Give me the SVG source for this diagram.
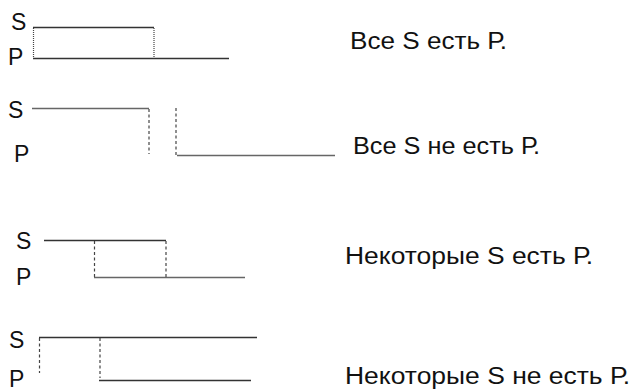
<svg xmlns="http://www.w3.org/2000/svg" width="632" height="389" viewBox="0 0 632 389">
  <style>
    .lbl { font-family: "Liberation Sans", Arial, sans-serif; font-size: 23px; fill: #111; }
    .cap { font-family: "Liberation Sans", Arial, sans-serif; font-size: 24.5px; fill: #111; }
    .solid { stroke: #333; stroke-width: 1.3; fill: none; }
    .grey { stroke: #666; stroke-width: 1.6; fill: none; }
    .dot { stroke: #444; stroke-width: 1.2; stroke-dasharray: 1 1; fill: none; }
    .dash { stroke: #444; stroke-width: 1.2; stroke-dasharray: 3 2.5; fill: none; }
  </style>
  <rect width="632" height="389" fill="#fff"/>

  <!-- Все S есть P -->
  <g id="all-are">
    <text class="lbl" x="11" y="30">S</text>
    <text class="lbl" x="8" y="65">P</text>
    <line class="solid" x1="33" y1="27.5" x2="154" y2="27.5"/>
    <line class="solid" x1="33" y1="58.5" x2="229" y2="58.5"/>
    <line class="dot" x1="33.5" y1="28" x2="33.5" y2="58"/>
    <line class="dot" x1="154" y1="28" x2="154" y2="58"/>
    <text class="cap" x="350" y="49" textLength="157" lengthAdjust="spacingAndGlyphs">Все S есть Р.</text>
  </g>

  <!-- Все S не есть P -->
  <g id="none-are">
    <text class="lbl" x="8" y="118">S</text>
    <text class="lbl" x="14" y="162">P</text>
    <line class="grey" x1="32" y1="108.5" x2="149" y2="108.5"/>
    <line class="dash" x1="149" y1="109" x2="149" y2="154"/>
    <line class="dash" x1="176" y1="108" x2="176" y2="155"/>
    <line class="grey" x1="177" y1="155.5" x2="335" y2="155.5"/>
    <text class="cap" x="353" y="154" textLength="187" lengthAdjust="spacingAndGlyphs">Все S не есть Р.</text>
  </g>

  <!-- Некоторые S есть P -->
  <g id="some-are">
    <text class="lbl" x="16" y="249">S</text>
    <text class="lbl" x="16" y="285">P</text>
    <line class="solid" x1="44" y1="240.5" x2="166" y2="240.5"/>
    <line class="dash" x1="94.5" y1="241" x2="94.5" y2="277"/>
    <line class="dash" x1="166" y1="241" x2="166" y2="277"/>
    <line class="grey" x1="94" y1="277.5" x2="245" y2="277.5"/>
    <text class="cap" x="345" y="264" textLength="248" lengthAdjust="spacingAndGlyphs">Некоторые S есть Р.</text>
  </g>

  <!-- Некоторые S не есть P -->
  <g id="some-are-not">
    <text class="lbl" x="9" y="348">S</text>
    <text class="lbl" x="9" y="386.5">P</text>
    <line class="solid" x1="39" y1="337.5" x2="257" y2="337.5"/>
    <line class="dash" x1="39.5" y1="338" x2="39.5" y2="373"/>
    <line class="dash" x1="100" y1="338" x2="100" y2="378"/>
    <line class="solid" x1="99" y1="380.5" x2="251" y2="380.5"/>
    <text class="cap" x="345" y="384" textLength="285" lengthAdjust="spacingAndGlyphs">Некоторые S не есть Р.</text>
  </g>
</svg>
